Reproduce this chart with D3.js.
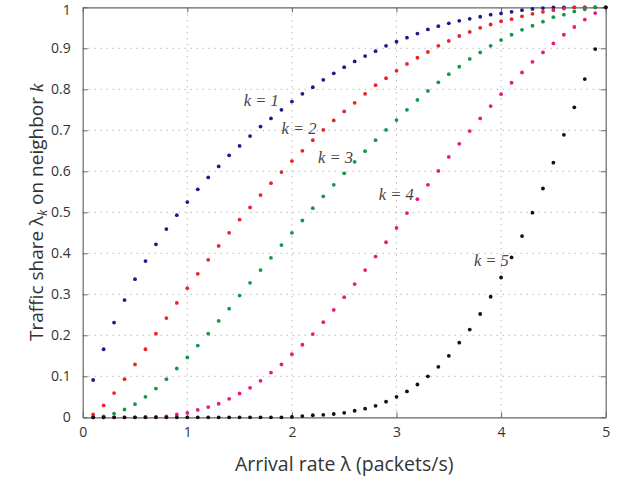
<!DOCTYPE html>
<html>
<head>
<meta charset="utf-8">
<script src="https://cdn.jsdelivr.net/npm/d3@7"></script>
<style>
  body { margin: 0; background: #fff; }
  svg { display: block; }
</style>
</head>
<body>
<div id="chart"></div>
<script>
// arrival rate lambda (packets/s), one dot per value
const lambdas = [0.1,0.2,0.3,0.4,0.5,0.6,0.7,0.8,0.9,1.0,
                 1.1,1.2,1.3,1.4,1.5,1.6,1.7,1.8,1.9,2.0,
                 2.1,2.2,2.3,2.4,2.5,2.6,2.7,2.8,2.9,3.0,
                 3.1,3.2,3.3,3.4,3.5,3.6,3.7,3.8,3.9,4.0,
                 4.1,4.2,4.3,4.4,4.5,4.6,4.7,4.8,4.9,5.0];

// traffic share on neighbor k
const shareK1 = [0.091,0.166,0.231,0.286,0.337,0.381,0.422,0.459,0.493,0.525,
                 0.556,0.585,0.612,0.639,0.662,0.686,0.709,0.729,0.750,0.770,
                 0.789,0.805,0.823,0.839,0.854,0.868,0.881,0.893,0.906,0.916,
                 0.926,0.936,0.946,0.954,0.961,0.967,0.972,0.977,0.982,0.985,
                 0.989,0.993,0.996,0.998,1.0,1.0,1.0,1.0,1.0,1.0];
const shareK2 = [0.007,0.029,0.059,0.093,0.129,0.166,0.204,0.242,0.279,0.315,
                 0.350,0.384,0.418,0.450,0.482,0.512,0.542,0.571,0.598,0.625,
                 0.650,0.676,0.701,0.724,0.746,0.767,0.789,0.810,0.827,0.845,
                 0.862,0.877,0.891,0.906,0.918,0.930,0.940,0.950,0.958,0.966,
                 0.971,0.978,0.984,0.989,0.993,0.997,1.0,1.0,1.0,1.0];
const shareK3 = [0.0,0.002,0.009,0.019,0.032,0.050,0.070,0.093,0.119,0.146,
                 0.175,0.204,0.235,0.265,0.297,0.328,0.359,0.389,0.420,0.450,
                 0.480,0.510,0.539,0.567,0.595,0.623,0.649,0.676,0.701,0.725,
                 0.750,0.774,0.796,0.817,0.837,0.855,0.874,0.890,0.906,0.920,
                 0.933,0.945,0.955,0.965,0.976,0.982,0.990,0.995,1.0,1.0];
const shareK4 = [0.0,0.0,0.0,0.0,0.0,0.001,0.001,0.002,0.007,0.011,
                 0.018,0.025,0.033,0.045,0.058,0.072,0.089,0.109,0.129,0.154,
                 0.177,0.203,0.232,0.262,0.293,0.325,0.359,0.392,0.427,0.462,
                 0.498,0.532,0.567,0.601,0.635,0.667,0.698,0.729,0.759,0.788,
                 0.816,0.841,0.867,0.890,0.912,0.933,0.952,0.970,0.986,1.0];
const shareK5 = [0.0,0.0,0.0,0.0,0.0,0.0,0.0,0.0,0.0,0.0,
                 0.0,0.0,0.0,0.0,0.0,0.0,0.0,0.0,0.0,0.001,
                 0.003,0.005,0.006,0.008,0.011,0.016,0.021,0.028,0.038,0.050,
                 0.063,0.080,0.100,0.123,0.150,0.182,0.214,0.252,0.294,0.341,
                 0.390,0.442,0.499,0.558,0.621,0.689,0.756,0.825,0.898,1.0];

const seriesNames = ['1', '2', '3', '4', '5'];
const seriesValues = [shareK1, shareK2, shareK3, shareK4, shareK5];
const seriesColors = ['#1e1a88', '#e8232b', '#10994a', '#e6197f', '#111111'];

// curve labels sit at these (lambda, share) spots
const labelX = [1.54, 1.9, 2.25, 2.83, 3.74];
const labelY = [0.76, 0.69, 0.62, 0.53, 0.37];

const xTicks = [0, 1, 2, 3, 4, 5];
const yTicks = [0, 0.1, 0.2, 0.3, 0.4, 0.5, 0.6, 0.7, 0.8, 0.9, 1];

const width = 621, height = 478;
const margin = {top: 7.3, right: 15.3, bottom: 60.7, left: 82.7};

const svg = d3.select('#chart').append('svg')
    .attr('width', width).attr('height', height);

const x = d3.scaleLinear().domain([0, 5]).range([margin.left, width - margin.right]);
const y = d3.scaleLinear().domain([0, 1]).range([height - margin.bottom, margin.top]);

const axisColor = '#666';
const textColor = '#333';
const fontSans = "'Open Sans', 'DejaVu Sans', sans-serif";

// dotted grid
svg.append('g').selectAll('line').data(xTicks.slice(1, -1)).enter().append('line')
    .attr('x1', d => x(d)).attr('x2', d => x(d))
    .attr('y1', y(0)).attr('y2', y(1))
    .attr('stroke', '#999').attr('stroke-width', 1).attr('stroke-dasharray', '1,5');
svg.append('g').selectAll('line').data(yTicks.slice(1, -1)).enter().append('line')
    .attr('x1', x(0)).attr('x2', x(5))
    .attr('y1', d => y(d)).attr('y2', d => y(d))
    .attr('stroke', '#999').attr('stroke-width', 1).attr('stroke-dasharray', '1,5');

// axes with inward ticks, box on all four sides
const tickLen = 5;
const styleAxis = g => {
    g.select('.domain').attr('stroke', axisColor).attr('stroke-width', 1.2);
    g.selectAll('.tick line').attr('stroke', axisColor);
    g.selectAll('.tick text').attr('fill', textColor)
        .style('font-family', fontSans).style('font-size', '14px');
};
svg.append('g').attr('transform', `translate(0,${y(0)})`)
    .call(d3.axisBottom(x).tickValues(xTicks).tickSizeInner(-tickLen).tickSizeOuter(0).tickPadding(10).tickFormat(d3.format('d')))
    .call(styleAxis);
svg.append('g').attr('transform', `translate(0,${y(1)})`)
    .call(d3.axisTop(x).tickValues(xTicks).tickSizeInner(-tickLen).tickSizeOuter(0).tickFormat(''))
    .call(styleAxis);
const yAxis = svg.append('g').attr('transform', `translate(${x(0)},0)`)
    .call(d3.axisLeft(y).tickValues(yTicks).tickSizeInner(-tickLen).tickSizeOuter(0).tickPadding(12).tickFormat(d => d === 0 || d === 1 ? d3.format('d')(d) : d3.format('.1f')(d)))
    .call(styleAxis);
// keep the top "1" inside the picture
yAxis.selectAll('.tick text').filter(d => d === 1).attr('dy', '0.5em');
svg.append('g').attr('transform', `translate(${x(5)},0)`)
    .call(d3.axisRight(y).tickValues(yTicks).tickSizeInner(-tickLen).tickSizeOuter(0).tickFormat(''))
    .call(styleAxis);

// dots
seriesValues.forEach((vals, i) => {
    svg.append('g').selectAll('circle').data(vals).enter().append('circle')
        .attr('cx', (d, j) => x(lambdas[j]))
        .attr('cy', d => y(d))
        .attr('r', 1.9)
        .attr('fill', seriesColors[i]);
});

// curve labels
seriesNames.forEach((name, i) => {
    svg.append('text')
        .attr('x', x(labelX[i])).attr('y', y(labelY[i]))
        .attr('fill', '#444')
        .style('font-family', "'Liberation Serif', 'DejaVu Serif', serif")
        .style('font-style', 'italic').style('font-size', '16.5px')
        .text(`k = ${name}`);
});

// axis titles
svg.append('text')
    .attr('x', (x(0) + x(5)) / 2).attr('y', 471)
    .attr('text-anchor', 'middle').attr('fill', textColor)
    .style('font-family', fontSans).style('font-size', '19.5px')
    .text('Arrival rate λ (packets/s)');

const yTitle = svg.append('text')
    .attr('transform', `translate(43,${(y(0) + y(1)) / 2}) rotate(-90)`)
    .attr('text-anchor', 'middle').attr('fill', textColor)
    .style('font-family', fontSans).style('font-size', '19px');
yTitle.append('tspan').text('Traffic share λ');
yTitle.append('tspan').attr('dy', 4).style('font-size', '12px').style('font-style', 'italic').text('k');
yTitle.append('tspan').attr('dy', -4).text(' on neighbor ');
yTitle.append('tspan').style('font-family', "'Liberation Serif', serif").style('font-style', 'italic').text('k');
</script>
</body>
</html>
